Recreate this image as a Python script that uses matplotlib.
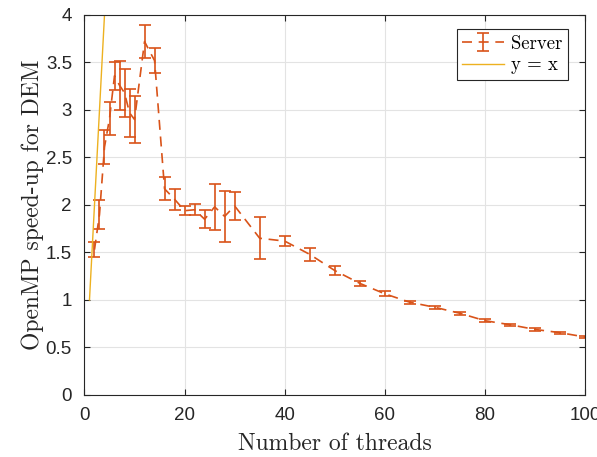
import matplotlib
matplotlib.use('Agg')
import matplotlib.pyplot as plt
import numpy as np

# thread counts and measured speed-up (mean, +/- error)
threads = [2, 3, 4, 5, 6, 7, 8, 9, 10, 12, 14, 16, 18, 20, 22, 24, 26, 28, 30,
           35, 40, 45, 50, 55, 60, 65, 70, 75, 80, 85, 90, 95, 100]
speedup = [1.53, 1.90, 2.61, 2.91, 3.36, 3.26, 3.18, 2.97, 2.90, 3.72, 3.52,
           2.17, 2.06, 1.94, 1.95, 1.85, 1.98, 1.88, 1.99,
           1.65, 1.62, 1.48, 1.31, 1.175, 1.065, 0.976, 0.923, 0.86, 0.782,
           0.74, 0.69, 0.656, 0.61]
err = [0.08, 0.15, 0.18, 0.17, 0.15, 0.26, 0.25, 0.25, 0.25, 0.17, 0.13,
       0.12, 0.11, 0.045, 0.06, 0.095, 0.24, 0.265, 0.145,
       0.22, 0.05, 0.065, 0.045, 0.025, 0.025, 0.015, 0.015, 0.015, 0.015,
       0.012, 0.012, 0.012, 0.015]

ideal_x = [1, 100]

orange = '#D95319'
yellow = '#EDB120'
dark = '#262626'

fig = plt.figure(figsize=(5.97, 4.57), dpi=100)
ax = fig.add_axes([0.1415, 0.1357, 0.8385, 0.8315])

eb = ax.errorbar(threads, speedup, yerr=err, color=orange,
                 linestyle=(0, (6, 4)), linewidth=1.2, elinewidth=1.2,
                 capsize=4, capthick=1.2, label='Server')
ln, = ax.plot(ideal_x, ideal_x, color=yellow, linewidth=1.0, label='y = x')

ax.set_xlim(0, 100)
ax.set_ylim(0, 4)
ax.set_xticks(np.arange(0, 101, 20))
ax.set_yticks(np.arange(0, 4.01, 0.5))
ax.set_yticklabels(['0', '0.5', '1', '1.5', '2', '2.5', '3', '3.5', '4'])
ax.grid(True, color='#E3E3E3', linewidth=0.8)
ax.set_axisbelow(True)

for s in ax.spines.values():
    s.set_color(dark)
    s.set_linewidth(0.8)
ax.tick_params(direction='in', top=True, right=True, length=4, width=0.8,
               color=dark, labelcolor=dark, labelsize=13.5, pad=9)
for lab in ax.get_xticklabels() + ax.get_yticklabels():
    lab.set_fontfamily('Liberation Sans')

ax.set_xlabel('Number of threads', fontfamily='cmr10', fontsize=17,
              color=dark, labelpad=6)
ax.set_ylabel('OpenMP speed-up for DEM', fontfamily='cmr10', fontsize=17,
              color=dark, labelpad=1)

leg = ax.legend([eb, ln], ['Server', 'y = x'], loc='upper right',
                bbox_to_anchor=(0.966, 0.963),
                prop={'family': 'cmr10', 'size': 13.5}, fancybox=False,
                framealpha=1, edgecolor=dark, borderpad=0.3,
                handlelength=2.2, handletextpad=0.4, labelspacing=0.2,
                borderaxespad=0)
leg.get_frame().set_linewidth(0.8)

fig.savefig('out.png', dpi=100)
